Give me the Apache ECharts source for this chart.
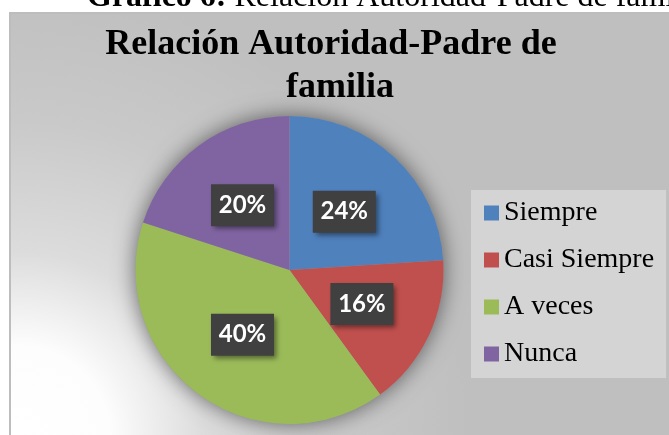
<!DOCTYPE html>
<html>
<head>
<meta charset="utf-8">
<script src="https://cdn.jsdelivr.net/npm/echarts@6/dist/echarts.min.js"></script>
<style>
  html, body { margin: 0; padding: 0; background: #fff; }
  #chart { width: 669px; height: 435px; }
</style>
</head>
<body>
<div id="chart"></div>
<script>
var categories = ['Siempre', 'Casi Siempre', 'A veces', 'Nunca'];
var percents = [24, 16, 40, 20];
var colors = ['#4f81bd', '#c0504d', '#9bbb59', '#8064a2'];

var pieCenter = [289.5, 270];
var pieRadius = 154;

var pieData = [];
for (var i = 0; i < categories.length; i++) {
    pieData.push({ name: categories[i], value: percents[i], itemStyle: { color: colors[i] } });
}

var chart = echarts.init(document.getElementById('chart'));
chart.setOption({
    animation: false,
    graphic: [
        {
            type: 'rect',
            z: -10,
            shape: { x: 10, y: 13, width: 700, height: 450 },
            style: {
                stroke: '#bdbdbd',
                lineWidth: 2,
                fill: {
                    type: 'radial', x: 0.014, y: 0.94, r: 1,
                    colorStops: [
                        { offset: 0, color: '#ffffff' },
                        { offset: 0.2, color: '#fdfdfd' },
                        { offset: 0.41, color: '#dcdcdc' },
                        { offset: 0.7, color: '#c9c9c9' },
                        { offset: 1, color: '#bfbfbf' }
                    ]
                }
            }
        },
        {
            type: 'text',
            x: 87, y: -2,
            style: {
                text: '{b|Gráfico 6:}{n| Relación Autoridad-Padre de familia}',
                verticalAlign: 'middle',
                rich: {
                    b: { fontFamily: 'Liberation Serif', fontSize: 32, fontWeight: 'bold', fill: '#000' },
                    n: { fontFamily: 'Liberation Serif', fontSize: 32, fill: '#000' }
                }
            }
        },
        {
            type: 'text',
            x: 331, y: 45,
            style: {
                text: 'Relación Autoridad-Padre de',
                align: 'center', verticalAlign: 'middle',
                font: 'bold 36px "Liberation Serif"',
                fill: '#000'
            }
        },
        {
            type: 'text',
            x: 340, y: 88,
            style: {
                text: 'familia',
                align: 'center', verticalAlign: 'middle',
                font: 'bold 36px "Liberation Serif"',
                fill: '#000'
            }
        }
    ],
    legend: {
        orient: 'vertical',
        left: 471,
        top: 190,
        icon: 'rect',
        itemWidth: 15,
        itemHeight: 15,
        itemGap: 19,
        backgroundColor: '#d4d4d4',
        padding: [9, 12, 10, 13],
        data: categories,
        textStyle: {
            fontFamily: 'Liberation Serif',
            fontSize: 28,
            lineHeight: 28,
            color: '#000'
        }
    },
    series: [
        {
            // shadow disc behind the pie
            type: 'pie',
            silent: true,
            z: 1,
            center: pieCenter,
            radius: [0, pieRadius],
            label: { show: false },
            labelLine: { show: false },
            legendHoverLink: false,
            data: [{ name: '', value: 1, itemStyle: { color: '#9a9a9a', shadowBlur: 22, shadowColor: 'rgba(0,0,0,0.55)' } }]
        },
        {
            type: 'pie',
            z: 2,
            center: pieCenter,
            radius: [0, pieRadius],
            startAngle: 90,
            clockwise: true,
            data: pieData,
            label: {
                show: true,
                position: 'inside',
                formatter: '{c}%',
                color: '#ffffff',
                fontFamily: 'Lato',
                fontWeight: 'bold',
                fontSize: 24,
                backgroundColor: '#404040',
                width: 63,
                height: 42,
                lineHeight: 42,
                align: 'center',
                padding: 0,
                shadowBlur: 5,
                shadowOffsetX: 3,
                shadowOffsetY: 3,
                shadowColor: 'rgba(0,0,0,0.45)'
            },
            labelLine: { show: false },
            emphasis: { disabled: true }
        }
    ]
});
</script>
</body>
</html>
